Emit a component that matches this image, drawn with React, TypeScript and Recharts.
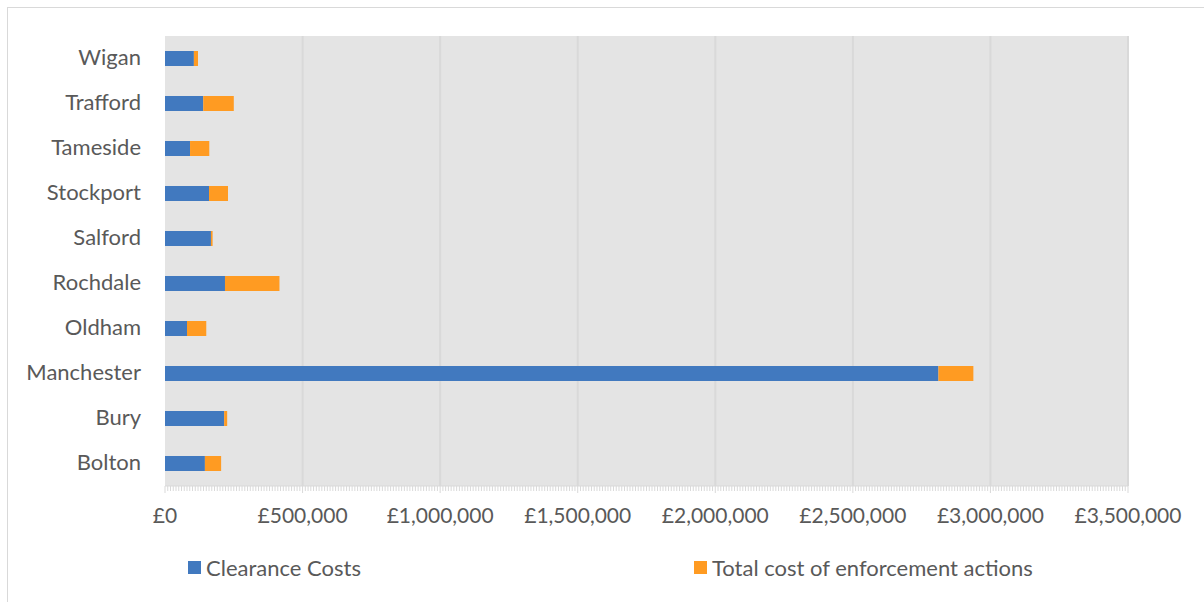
import React from 'react';
import { BarChart, Bar, XAxis, YAxis, CartesianGrid } from 'recharts';

const boroughs = ['Bolton', 'Bury', 'Manchester', 'Oldham', 'Rochdale', 'Salford', 'Stockport', 'Tameside', 'Trafford', 'Wigan'];
const clearanceCosts = [145000, 215000, 2811000, 80000, 218000, 167000, 160000, 91000, 139000, 105000];
const enforcementCosts = [59000, 11000, 127000, 70000, 198000, 6000, 69000, 70000, 111000, 15000];
const majorTicks = [0, 500000, 1000000, 1500000, 2000000, 2500000, 3000000, 3500000];
const minorStep = 10000;
const seriesNames = ['Clearance Costs', 'Total cost of enforcement actions'];
const seriesColors = ['#4179BF', '#FF9B22'];
const boundaryTicks = [0, 1, 2, 3, 4, 5, 6, 7, 8, 9, 10];

const data = boroughs.map((name, i) => ({
  name,
  clearance: clearanceCosts[i],
  enforcement: enforcementCosts[i],
}));

const axisMax = majorTicks[majorTicks.length - 1];
const minorTicks = Array.from({ length: Math.round(axisMax / minorStep) + 1 }, (_, i) => i * minorStep);

const FONT = 'Lato, "Open Sans", sans-serif';
const TEXT = '#595959';
const LINE = '#d9d9d9';

const fmt = (v: number) => '£' + v.toLocaleString('en-GB');

const XTick = (props: any) => {
  const { x, y, payload } = props;
  const v = payload.value as number;
  const isMajor = majorTicks.includes(v);
  return (
    <g>
      <line x1={x} x2={x} y1={y} y2={y + (isMajor ? 7 : 5)} stroke={LINE} strokeWidth={1} />
      {isMajor && (
        <text x={x} y={y + 37} textAnchor="middle" fill={TEXT} fontSize={21} fontFamily={FONT}>
          {fmt(v)}
        </text>
      )}
    </g>
  );
};

const YTick = (props: any) => {
  const { x, y, payload } = props;
  return (
    <text x={x} y={y} dy="0.3em" textAnchor="end" fill={TEXT} fontSize={22} fontFamily={FONT}>
      {payload.value}
    </text>
  );
};

export default function App() {
  return (
    <div style={{ position: 'absolute', left: 0, top: 0, width: 1204, height: 602, overflow: 'hidden', background: '#fff' }}>
      <div style={{ position: 'absolute', left: 7, top: 7, width: 1197, height: 1, background: LINE }} />
      <div style={{ position: 'absolute', left: 7, top: 7, width: 1, height: 595, background: LINE }} />
      <div style={{ position: 'absolute', left: 0, top: 0 }}>
        <BarChart
          width={1204}
          height={602}
          data={data}
          layout="vertical"
          margin={{ top: 36, right: 76, bottom: 76, left: 0 }}
        >
          <CartesianGrid
            horizontal={false}
            vertical
            verticalValues={majorTicks.slice(1)}
            stroke={LINE}
            strokeWidth={2}
            fill="#e4e4e4"
          />
          <XAxis
            type="number"
            domain={[0, axisMax]}
            ticks={minorTicks}
            interval={0}
            allowDataOverflow
            height={40}
            tickSize={0}
            tickMargin={0}
            tickLine={false}
            axisLine={{ stroke: LINE }}
            tick={<XTick />}
          />
          <YAxis
            yAxisId="bnd"
            type="number"
            domain={[0, 10]}
            ticks={boundaryTicks}
            interval={0}
            allowDataOverflow
            width={0}
            tick={false}
            tickSize={8}
            tickLine={{ stroke: LINE, strokeWidth: 1.5 }}
            axisLine={{ stroke: LINE, strokeWidth: 1.5 }}
          />
          <YAxis
            yAxisId="cat"
            type="category"
            dataKey="name"
            reversed
            width={165}
            interval={0}
            tickSize={8}
            tickMargin={16}
            tickLine={false}
            axisLine={false}
            tick={<YTick />}
          />
          <Bar yAxisId="cat" dataKey="clearance" name={seriesNames[0]} stackId="a" fill={seriesColors[0]} barSize={15} isAnimationActive={false} />
          <Bar yAxisId="cat" dataKey="enforcement" name={seriesNames[1]} stackId="a" fill={seriesColors[1]} barSize={15} isAnimationActive={false} />
        </BarChart>
      </div>
      {[188, 694].map((left, i) => (
        <div key={i} style={{ position: 'absolute', left, top: 554, display: 'flex', alignItems: 'center', height: 26 }}>
          <div style={{ width: 13, height: 13, background: seriesColors[i], marginRight: 5 }} />
          <span style={{ fontFamily: FONT, fontSize: 22, color: TEXT, whiteSpace: 'nowrap' }}>{seriesNames[i]}</span>
        </div>
      ))}
    </div>
  );
}
